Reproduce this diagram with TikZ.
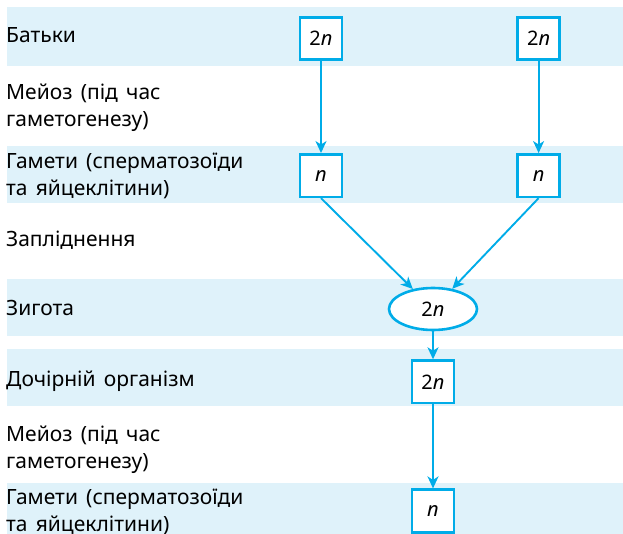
\documentclass[tikz,border=0pt]{standalone}
\usepackage{fontspec}
\setmainfont[WordSpace=1.5]{Noto Sans}
\usetikzlibrary{arrows.meta,positioning,shapes.geometric}

\definecolor{lineblue}{RGB}{0,172,232}
\definecolor{bandblue}{RGB}{223,242,250}

\begin{document}
\begin{tikzpicture}[x=1pt, y=-1pt,
  band/.style={fill=bandblue, draw=none},
  lbl/.style={anchor=base west, inner sep=0pt, align=left, font=\fontsize{21}{27}\selectfont},
  cell/.style={draw=lineblue, line width=2.6pt, fill=white, minimum width=42pt, minimum height=42.5pt, inner sep=0pt, font=\fontsize{20}{24}\selectfont},
  zyg/.style={cell, ellipse, minimum width=88pt, minimum height=42pt},
  arr/.style={-{Stealth[length=12pt, width=11pt, inset=3.5pt]}, draw=lineblue, line width=1.9pt},
]
  \useasboundingbox (0,0) rectangle (623,534);

  % background rows
  \fill[band] (7,7) rectangle (623,66);
  \fill[band] (7,146) rectangle (623,203);
  \fill[band] (7,279) rectangle (623,336);
  \fill[band] (7,349) rectangle (623,406);
  \fill[band] (7,483) rectangle (623,534);

  % row labels (base = last line)
  \node[lbl] (parents) at (6,43) {Батьки};
  \node[lbl] (meiosisA) at (6,127) {Мейоз (під час\\гаметогенезу)};
  \node[lbl] (gametesA) at (6,196) {Гамети (сперматозоїди\\та яйцеклітини)};
  \node[lbl] (fert) at (6,247) {Запліднення};
  \node[lbl] (zygote) at (6,316) {Зигота};
  \node[lbl] (child) at (6,386) {Дочірній організм};
  \node[lbl] (meiosisB) at (6,468) {Мейоз (під час\\гаметогенезу)};
  \node[lbl] (gametesB) at (6,531) {Гамети (сперматозоїди\\та яйцеклітини)};

  % cells
  \node[cell] (p1) at (321,38.5) {2\textit{n}};
  \node[cell, right=173pt of p1] (p2) {2\textit{n}};
  \node[cell, below=92pt of p1] (g1) {\textit{n}};
  \node[cell, below=92pt of p2] (g2) {\textit{n}};
  \node[zyg] (z) at (433,309) {2\textit{n}};
  \node[cell, below=28pt of z] (d) {2\textit{n}};
  \node[cell, below=84pt of d] (gd) {\textit{n}};

  \draw[arr] (p1) -- (g1);
  \draw[arr] (p2) -- (g2);
  \draw[arr] (g1.south) -- (z);
  \draw[arr] (g2.south) -- (z);
  \draw[arr] (z) -- (d);
  \draw[arr] (d) -- (gd);
\end{tikzpicture}
\end{document}
